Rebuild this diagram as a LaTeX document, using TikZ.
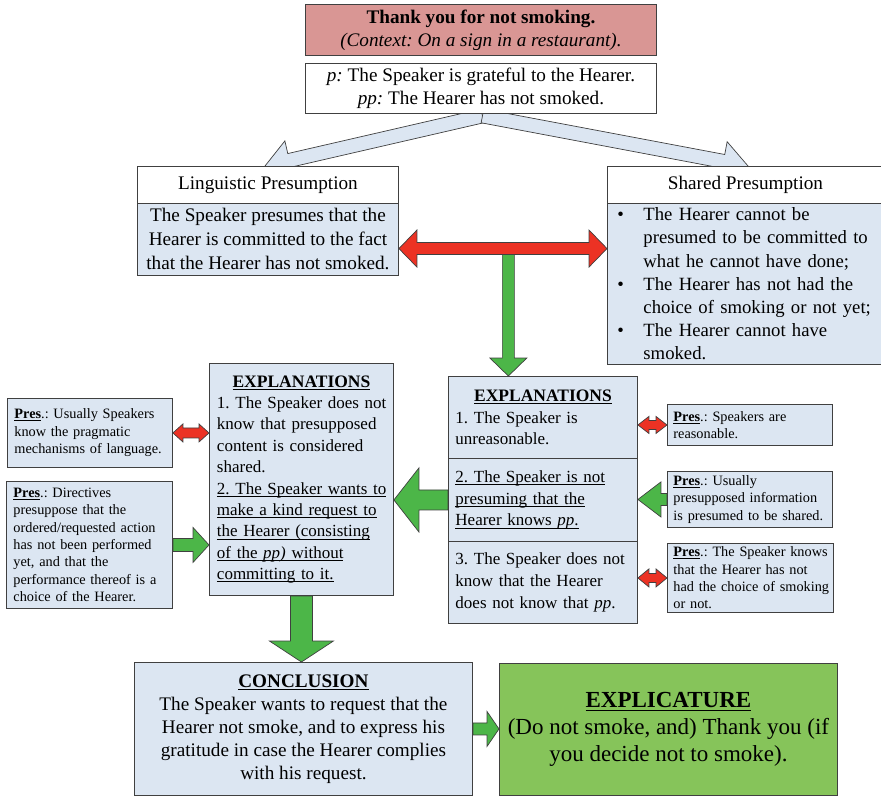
\documentclass[tikz,border=0pt]{standalone}
\usepackage{fontspec}
\setmainfont{Liberation Serif}
\usetikzlibrary{calc}
\definecolor{lblue}{RGB}{220,230,242}
\definecolor{pinkred}{RGB}{217,150,148}
\definecolor{arrred}{RGB}{236,50,36}
\definecolor{arrgreen}{RGB}{76,182,72}
\definecolor{expgreen}{RGB}{134,196,90}
\definecolor{edgec}{RGB}{64,64,64}
\pgfdeclarelayer{bg}
\pgfsetlayers{bg,main}
\newcommand{\undl}[1]{\leavevmode\setbox0=\hbox{#1}\rlap{\rule[-0.16em]{\wd0}{0.06em}}\box0}
\newcommand{\fMain}{\fontsize{19.2pt}{23pt}\selectfont}
\newcommand{\fLing}{\fontsize{19.2pt}{24pt}\selectfont}
\newcommand{\fShared}{\fontsize{18.7pt}{23.2pt}\selectfont}
\newcommand{\fExp}{\fontsize{17pt}{21.4pt}\selectfont}
\newcommand{\fExpR}{\fontsize{17pt}{21.8pt}\selectfont}
\newcommand{\fExpT}{\fontsize{17.5pt}{21.4pt}\selectfont}
\newcommand{\fPres}{\fontsize{14.3pt}{17.4pt}\selectfont}
\newcommand{\fExpl}{\fontsize{23pt}{27pt}\selectfont}
% block arrow: style, from, to, shaft half width, head half width, head length
\newcommand{\blockarrow}[6]{%
  \coordinate (hb) at ($(#3)!#6!(#2)$);
  \draw[#1] ($(#2)!#4!90:(#3)$) -- ($(hb)!#4!90:(#3)$) -- ($(hb)!#5!90:(#3)$) -- (#3)
    -- ($(hb)!#5!-90:(#3)$) -- ($(hb)!#4!-90:(#3)$) -- ($(#2)!#4!-90:(#3)$) -- cycle;}
\newcommand{\dblockarrow}[6]{%
  \coordinate (hbA) at ($(#2)!#6!(#3)$);
  \coordinate (hbB) at ($(#3)!#6!(#2)$);
  \draw[#1] (#2) -- ($(hbA)!#5!90:(#3)$) -- ($(hbA)!#4!90:(#3)$) -- ($(hbB)!#4!90:(#3)$)
    -- ($(hbB)!#5!90:(#3)$) -- (#3) -- ($(hbB)!#5!-90:(#3)$) -- ($(hbB)!#4!-90:(#3)$)
    -- ($(hbA)!#4!-90:(#3)$) -- ($(hbA)!#5!-90:(#3)$) -- cycle;}
\begin{document}
\frenchspacing
\begin{tikzpicture}[x=1pt,y=-1pt,
  box/.style={draw=edgec, line width=0.9pt, inner ysep=0pt, anchor=north west},
  blarrow/.style={fill=lblue, draw=edgec, line width=0.7pt},
  redarr/.style={fill=arrred, draw=edgec, line width=0.7pt},
  greenarr/.style={fill=arrgreen, draw=edgec, line width=0.7pt}]
\useasboundingbox (0,0) rectangle (881,797);

% top
\node[box, fill=pinkred, minimum width=351pt, minimum height=51pt, align=center, font=\fMain] (top) at (305,4)
  {\textbf{Thank you for not smoking.}\\ \textit{(Context: On a sign in a restaurant).}};
\node[box, fill=white, minimum width=351pt, minimum height=50pt, align=center, font=\fMain] (pbox) at (305,63)
  {\textit{p:} The Speaker is grateful to the Hearer.\\ \textit{pp:} The Hearer has not smoked.};

% presumptions
\node[box, fill=white, minimum width=261pt, minimum height=37pt, font=\fMain] (lphead) at (137,166) {Linguistic Presumption};
\node[box, fill=lblue, minimum width=261pt, minimum height=72pt, align=center, font=\fLing] (lpbody) at (137,203)
  {The Speaker presumes that the\\ Hearer is committed to the fact\\ that the Hearer has not smoked.};
\node[box, fill=white, minimum width=276pt, minimum height=37pt, font=\fMain] (sphead) at (607,166) {Shared Presumption};
\node[box, fill=lblue, minimum width=276pt, minimum height=161pt, inner xsep=10pt, text width=256pt, align=left, font=\fShared] (spbody) at (607,203)
  {\mbox{\makebox[26pt][l]{\textbullet}The Hearer cannot be}\\
   \mbox{\hspace*{26pt}presumed to be committed to}\\
   \mbox{\hspace*{26pt}what he cannot have done;}\\
   \mbox{\makebox[26pt][l]{\textbullet}The Hearer has not had the}\\
   \mbox{\hspace*{26pt}choice of smoking or not yet;}\\
   \mbox{\makebox[26pt][l]{\textbullet}The Hearer cannot have}\\
   \mbox{\hspace*{26pt}smoked.}};

% left explanations
\node[box, fill=lblue, minimum width=184pt, minimum height=232pt, inner xsep=7.5pt, text width=169pt, align=left, font=\fExp] (lexp) at (209,363)
  {\makebox[\linewidth][c]{\fExpT\undl{\textbf{EXPLANATIONS}}}\\
   \mbox{1. The Speaker does not}\\
   \mbox{know that presupposed}\\
   \mbox{content is considered}\\
   \mbox{shared.}\\
   \undl{2. The Speaker wants to}\\
   \undl{make a kind request to}\\
   \undl{the Hearer (consisting}\\
   \undl{of the \textit{pp)} without}\\
   \undl{committing to it.}};

% right explanations
\node[box, fill=lblue, minimum width=189pt, minimum height=82pt, inner xsep=7pt, text width=175pt, align=left, font=\fExpR] (rexp1) at (448,376)
  {\makebox[\linewidth][c]{\fExpT\undl{\textbf{EXPLANATIONS}}}\\
   \mbox{1. The Speaker is}\\
   \mbox{unreasonable.}};
\node[box, fill=lblue, minimum width=189pt, minimum height=83pt, inner xsep=7pt, text width=175pt, align=left, font=\fExpR] (rexp2) at (448,458)
  {\undl{2. The Speaker is not}\\
   \undl{presuming that the}\\
   \undl{Hearer knows \textit{pp}.}};
\node[box, fill=lblue, minimum width=189pt, minimum height=82pt, inner xsep=7pt, text width=175pt, align=left, font=\fExpR] (rexp3) at (448,541)
  {\mbox{3. The Speaker does not}\\
   \mbox{know that the Hearer}\\
   \mbox{does not know that \textit{pp}.}};

% presupposition boxes
\node[box, fill=lblue, minimum width=165pt, minimum height=69pt, inner xsep=7pt, text width=151pt, align=left, font=\fPres] (lp1) at (7,398)
  {\mbox{\undl{\textbf{Pres}}.: Usually Speakers}\\
   \mbox{know the pragmatic}\\
   \mbox{mechanisms of language.}};
\node[box, fill=lblue, minimum width=166pt, minimum height=127pt, inner xsep=7pt, text width=152pt, align=left, font=\fPres] (lp2) at (6,481)
  {\mbox{\undl{\textbf{Pres}}.: Directives}\\
   \mbox{presuppose that the}\\
   \mbox{ordered/requested action}\\
   \mbox{has not been performed}\\
   \mbox{yet, and that the}\\
   \mbox{performance thereof is a}\\
   \mbox{choice of the Hearer.}};
\node[box, fill=lblue, minimum width=165pt, minimum height=41pt, inner xsep=6pt, text width=153pt, align=left, font=\fPres] (rp1) at (667,404)
  {\mbox{\undl{\textbf{Pres}}.: Speakers are}\\
   \mbox{reasonable.}};
\node[box, fill=lblue, minimum width=165pt, minimum height=56pt, inner xsep=6pt, text width=153pt, align=left, font=\fPres] (rp2) at (667,471)
  {\mbox{\undl{\textbf{Pres}}.: Usually}\\
   \mbox{presupposed information}\\
   \mbox{is presumed to be shared.}};
\node[box, fill=lblue, minimum width=166pt, minimum height=69pt, inner xsep=6pt, text width=154pt, align=left, font=\fPres] (rp3) at (667,543)
  {\mbox{\undl{\textbf{Pres}}.: The Speaker knows}\\
   \mbox{that the Hearer has not}\\
   \mbox{had the choice of smoking}\\
   \mbox{or not.}};

% conclusion and explicature
\node[box, fill=lblue, minimum width=338pt, minimum height=133pt, align=center, font=\fMain] (conc) at (134,662)
  {\undl{\textbf{CONCLUSION}}\\
   The Speaker wants to request that the\\
   Hearer not smoke, and to express his\\
   gratitude in case the Hearer complies\\
   with his request.};
\node[box, fill=expgreen, minimum width=338pt, minimum height=132pt, align=center, font=\fExpl] (expl) at (499,663)
  {\undl{\textbf{EXPLICATURE}}\\
   (Do not smoke, and) Thank you (if\\
   you decide not to smoke).};

% connectors
\begin{pgfonlayer}{bg}
  \coordinate (bs) at ($(pbox.south)+(1.5,2)$);
  \coordinate (blt) at ($(lphead.north west)+(128,0)$);
  \coordinate (brt) at ($(sphead.north west)+(141,0)$);
  \blockarrow{blarrow}{bs}{blt}{7pt}{20pt}{25pt}
  \blockarrow{blarrow}{bs}{brt}{7pt}{20pt}{25pt}

  \coordinate (rl) at ($(lpbody.north east)!0.625!(lpbody.south east)$);
  \coordinate (rr) at (rl -| spbody.west);
  \coordinate (gds) at ($(rl)!0.526!(rr)$);
  \coordinate (gde) at (gds |- rexp1.north);
  \blockarrow{greenarr}{gds}{gde}{6pt}{18.5pt}{18pt}
  \dblockarrow{redarr}{rl}{rr}{6pt}{18.5pt}{18pt}

  \coordinate (g2e) at (rexp2.west -| lexp.east);
  \blockarrow{greenarr}{rexp2.west}{g2e}{10pt}{32pt}{25pt}

  \coordinate (r1e) at (rp1.west -| rexp1.east);
  \dblockarrow{redarr}{rp1.west}{r1e}{4.5pt}{8.5pt}{11pt}
  \coordinate (g3e) at (rp2.west -| rexp2.east);
  \blockarrow{greenarr}{rp2.west}{g3e}{6pt}{17.5pt}{23pt}
  \coordinate (r3e) at (rp3.west -| rexp3.east);
  \dblockarrow{redarr}{rp3.west}{r3e}{4.5pt}{9pt}{11pt}

  \coordinate (l1e) at (lp1.east -| lexp.west);
  \dblockarrow{redarr}{lp1.east}{l1e}{5pt}{9pt}{10pt}
  \coordinate (l2e) at (lp2.east -| lexp.west);
  \blockarrow{greenarr}{lp2.east}{l2e}{6.5pt}{17.5pt}{16pt}

  \coordinate (cde) at (lexp.south |- conc.north);
  \blockarrow{greenarr}{lexp.south}{cde}{11pt}{32pt}{21pt}
  \coordinate (cee) at (conc.east -| expl.west);
  \blockarrow{greenarr}{conc.east}{cee}{6pt}{17.5pt}{12pt}
\end{pgfonlayer}
\end{tikzpicture}
\end{document}
